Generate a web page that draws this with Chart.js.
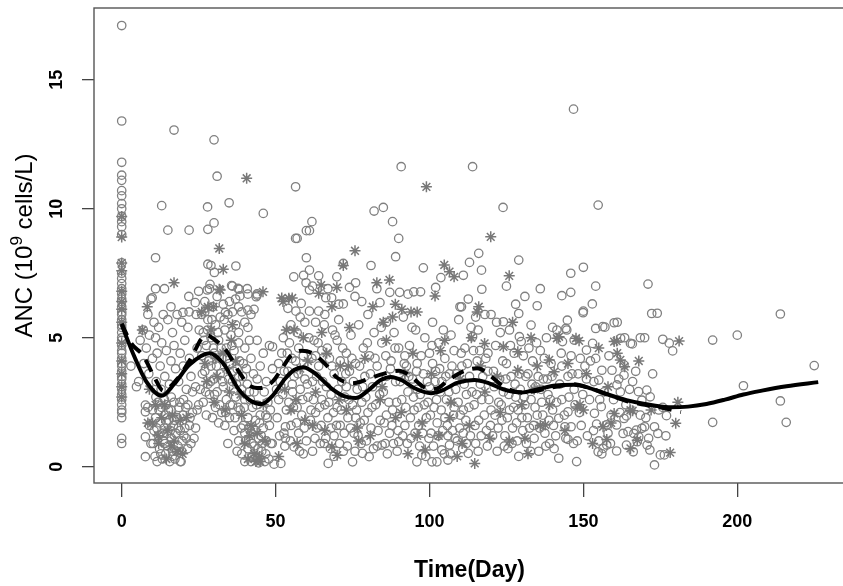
<!DOCTYPE html>
<html>
<head>
<meta charset="utf-8">
<script src="https://cdn.jsdelivr.net/npm/chart.js@4.4.1/dist/chart.umd.min.js"></script>
<style>
html, body { margin: 0; padding: 0; background: #fff; overflow: hidden; }
#wrap { width: 843px; height: 586px; overflow: hidden; }
canvas { display: block; }
</style>
</head>
<body>
<div id="wrap"><canvas id="chart" width="852" height="586"></canvas></div>
<script>
// tick labels
const xTickValues = [0, 50, 100, 150, 200];
const yTickValues = [0, 5, 10, 15];

// observed ANC, circles: [day, value]
const day0Circles = [
  [0,17.1],[0,13.4],[0,11.8],[0,11.3],[0,11.1],[0,10.7],[0,10.5],[0,10.2],[0,10.0],[0,9.7],[0,9.5],[0,9.3],[0,9.0],
  [0,7.9],[0,7.5],[0,7.3],[0,7.1],[0,6.9],[0,6.7],[0,6.5],[0,6.4],[0,6.2],[0,6.0],[0,5.9],[0,5.7],[0,5.5],[0,5.4],
  [0,5.2],[0,5.0],[0,4.9],[0,4.7],[0,4.5],[0,4.4],[0,4.2],[0,4.0],[0,3.9],[0,3.7],[0,3.5],[0,3.4],[0,3.2],[0,3.0],
  [0,2.8],[0,2.6],[0,2.4],[0,2.2],[0,2.1],[0,1.9],[0,1.1],[0,0.9]
];
const earlyCircles = [
  [3,3.9],[4.8,3.1],[5.5,3.3],[6,4.9],[7,5.3],[7.2,4.0],[8,4.6],[8.5,5.9],[8.8,3.6],[9,5.1],[9.5,6.5],[9.9,6.55],
  [10,4.2],[10.5,5.6],[11,5.0],[11,6.9],[11,8.1],[11.2,3.3],[11.5,4.4],[12,5.4],[12.5,3.9],[12.8,3.0],[13,4.8],
  [13,10.12],[13.5,5.9],[13.9,6.9],[14,3.5],[14.5,4.5],[15,5.7],[15,9.17],[15.5,3.2],[16,4.1],[16,6.2],[16.5,5.2],
  [17,4.7],[17,13.05],[17.5,3.8],[18,5.9],[18.5,3.3],[19,4.4],[19.5,5.6],[19.9,5.98],[20,3.9],[20.5,4.9],[21,3.0],
  [21.5,5.4],[21.8,6.6],[21.9,6.0],[21.9,9.17],[22,4.2],[22.5,3.5],[23,2.9],[23.9,6.36],[24,3.1],[24.5,4.6],[24.2,5.9],
  [7.7,2.39],[7.7,2.13],[7.7,1.16],[7.7,0.39],[8.5,2.3],[9,1.6],[9.5,0.9],[10,2.2],[10.5,1.4],[10.8,0.4],[11,1.9],
  [11.5,0.2],[11.8,2.5],[12,1.2],[12.3,0.7],[12.5,1.7],[13,2.3],[13.2,0.3],[13.5,1.0],[13.8,1.5],[14,2.0],[14.3,0.5],
  [14.5,2.4],[14.8,1.3],[15,0.8],[15.3,1.8],[15.6,0.2],[16,2.2],[16.2,1.1],[16.5,0.6],[16.8,1.6],[17,2.5],[17.3,0.3],
  [17.6,1.3],[18,1.9],[18.3,0.8],[18.6,2.3],[19,1.4],[19.3,0.2],[19.6,1.0],[20,2.0],[20.5,1.5],[21,1.1],[21.5,2.4],
  [22,1.6],[22.5,0.9],[23,2.1],[24,1.5],[25,2.4],[19,0.2],
  [10.2,0.9],[11.4,1.5],[12.1,2.2],[12.7,0.5],[13.4,1.3],[14.1,0.9],[14.7,1.7],[15.2,2.2],[15.8,1.4],[16.4,0.4],
  [17.1,1.8],[17.8,0.6],[18.4,1.5],[18.9,2.5],[19.5,0.6],[20.2,1.2],[20.8,2.3],[21.4,0.7],[22.2,1.9],[23.5,1.1],
  [13.9,2.6],[11.1,2.7],[16.1,2.7],[20.1,2.6]
];
const cycle1Circles = [
  [25,6.8],[26,5.9],[26.5,5.2],[27,6.4],[27.5,4.7],[28,5.7],[28.5,6.9],[29,5.0],[29.5,6.2],[30,4.4],[30.5,5.5],
  [31,6.6],[31.5,4.9],[32,5.8],[32.5,4.2],[33,6.3],[33.5,5.3],[34,4.6],[34.5,5.9],[35,4.0],[35.5,5.1],[36,6.0],
  [36.5,4.5],[37,5.5],[37.5,3.8],[38,4.8],[26,4.3],[27,3.7],[28,3.2],[29,3.9],[30,3.4],[31,2.9],[32,3.6],[33,3.1],
  [34,2.6],[26.5,2.5],[27.5,2.0],[28.5,2.8],[29.5,1.9],[30.5,2.3],[31.5,1.7],[32.5,2.1],[33.5,1.6],[25.5,3.0],[24.5,2.2],
  [36,3.3],[37,2.7],[38,3.5],[38.5,2.2],[39,3.0],[39.5,1.6],[40,2.6],[40.5,3.8],[41,1.9],[41.5,2.9],[42,1.3],[42.5,2.3],
  [43,0.8],[43.5,1.8],[44,0.3],[44.5,1.1],[45,2.0],[45.5,0.6],[46,1.5],[46.5,0.2],[47,1.0],[47.5,2.5],[48,1.6],[38,1.0],
  [39,0.5],[40,1.3],[41,0.7],[42,0.2],[43,2.9],[44,3.4],[45,3.9],[46,4.4],[47,3.3],[36.5,1.4],[37.5,0.6],[35,1.9],
  [34.5,0.9],[36,2.4],[48,4.7],[49,3.8],[48.5,0.9],[49.5,0.1],[44,4.9],[42,4.2],[40,4.6],[38,5.2],[39,6.0],[41,5.4],
  [43,6.1],[44,6.7],[38.4,6.62],[41,6.69],[43.7,6.59],[38,6.2],[41,6.07],[33.7,5.98],[27.8,6.85],[28,7.85],[28.7,7.07],
  [29,7.8],[30.1,7.53],[36,7.0],[37.1,7.78],[38.2,6.88],[40.8,6.9],[44,6.65],[35.7,7.02],[37.8,6.91],[27.9,10.07],
  [30,9.45],[30,12.67],[31,11.26],[34.9,10.23],[46,9.82],[27,6.0],[28,9.2],[40,0.2],[42.5,0.4],[44.5,0.15],
  [25.2,5.3],[26.2,3.6],[26.8,4.9],[27.3,2.9],[27.9,5.3],[28.3,4.1],[28.9,3.3],[29.3,5.7],[29.8,4.6],[30.2,2.8],
  [30.8,3.9],[31.3,5.2],[31.8,2.4],[32.3,4.6],[32.8,3.3],[33.3,5.7],[33.8,2.1],[34.3,4.2],[34.8,3.4],[35.3,2.4],
  [35.8,4.7],[36.3,3.7],[36.8,1.9],[37.3,3.2],[37.8,2.3],[38.3,4.1],[38.8,1.5],[39.3,3.5],[39.8,2.3],[40.3,1.0],
  [40.8,3.2],[41.3,1.5],[41.8,2.6],[42.3,0.9],[42.8,3.6],[43.3,1.4],[43.8,2.4],[44.3,0.7],[44.8,1.7],[45.3,1.2],
  [45.8,0.9],[46.3,2.9],[46.8,0.5],[47.3,1.9],[47.8,0.3],[48.3,2.2],[39.5,4.0],[41.5,4.9],[37,6.5],[35,6.4],[42,5.9],[40,5.6]
];
const cycle2Circles = [
  [48.9,0.9],[51.7,0.13],[52.7,1.3],[46.8,2.0],[54.3,2.5],[55.4,3.2],[51,4.0],[49,4.65],[55.9,7.36],[56.5,10.85],
  [56.5,8.85],[59.1,7.42],[50.5,1.9],[51,2.6],[51.5,3.3],[52,4.4],[52.5,5.0],[53,0.8],[53.2,1.1],[53.2,1.55],[53.5,2.2],
  [54,3.7],[54,6.14],[54.5,4.8],[55,1.6],[55,5.5],[55.5,2.9],[56,0.77],[56,3.5],[56.5,4.1],[56.6,6.03],[57,2.3],[57,5.2],
  [57.5,1.3],[57.5,4.6],[58,3.0],[58,5.8],[58.3,6.33],[58.5,2.0],[59,0.5],[59,4.3],[59.5,3.4],[59.5,5.6],[59.9,7.13],
  [60,8.1],[60,9.15],[60,1.0],[60.5,2.7],[61,9.15],[61,6.85],[61,6.03],[61,7.62],[61.8,9.5],[57,8.85],
  [62,3.3],[62.5,4.9],[63,2.1],[63,5.6],[63.5,1.5],[64,3.9],[64,6.03],[64.5,0.9],[65,2.6],[65,4.5],[65.8,0.9],[66,5.9],
  [66.3,6.55],[66.5,3.1],[67,1.9],[67.1,0.13],[67.5,4.2],[68,2.8],[68.2,6.55],[68.5,5.3],[69,1.2],[69,3.6],[69.9,7.36],
  [70,2.3],[70,4.9],[70.5,5.7],[71,1.6],[71.5,3.3],[72,6.31],[72,7.88],[72,0.6],[72.5,2.7],[73,4.4],[73.5,1.9],[74,6.95],
  [74,3.7],[74.5,5.1],[75,0.19],[75,2.4],[75.5,1.3],[76,7.13],[76,4.0],[76.5,3.0],[77,5.5],[77.5,1.7],[78,2.5],[78.2,0.52],
  [78.5,4.6],[79,3.5],[79.5,1.0],[80,5.9],[80,2.1],[80.4,0.39],[62,7.0],[64,7.4],[78,6.4],[75.8,6.6],[70.5,6.3],[67,6.9],
  [63,4.3],[61.5,2.2],[62,0.6],[66,2.4],[68,1.5],[71,4.1],[73,3.1],[76,1.9],[69,0.4],
  [50.3,3.0],[51.3,1.2],[52.3,2.8],[52.8,3.7],[53.8,4.4],[54.8,1.0],[55.3,4.2],[55.8,2.3],[56.8,1.7],[57.3,3.6],
  [57.8,0.6],[58.8,2.6],[59.3,1.5],[60.3,3.2],[60.8,5.0],[61.3,1.8],[61.8,4.2],[62.3,2.6],[62.8,1.1],[63.3,3.5],
  [63.8,4.8],[64.3,2.3],[64.8,1.6],[65.3,3.3],[65.8,5.5],[66.3,1.1],[66.8,4.6],[67.3,2.5],[67.8,0.7],[68.3,3.9],
  [68.8,2.1],[69.3,5.1],[69.8,1.6],[70.3,3.0],[70.8,0.9],[71.3,2.2],[71.8,4.6],[72.3,1.3],[72.8,3.6],[73.3,0.8],
  [73.8,2.6],[74.3,1.5],[74.8,4.2],[75.3,3.3],[75.8,0.6],[76.3,2.2],[76.8,1.2],[77.3,3.9],[77.8,0.9],[78.3,3.1],
  [78.8,1.8],[79.3,2.7],[79.8,4.8]
];
const cycle3Circles = [
  [80.5,4.3],[81,7.8],[81,1.5],[81.5,3.1],[82,9.91],[82,5.2],[82.5,2.4],[83,0.8],[83.9,6.36],[83,3.9],[82.9,6.9],[84,1.8],
  [84.6,0.84],[84.5,4.8],[85,10.05],[85,2.9],[85.6,0.9],[86,5.6],[86,3.5],[87,1.3],[87.1,6.76],[87.5,4.1],[88,9.5],[88,2.2],
  [88.5,5.2],[89,8.14],[89,3.3],[89.5,0.6],[90,8.85],[90,0.97],[90,4.6],[90.3,6.76],[90.8,11.63],[91,2.6],[91.5,5.8],
  [92,1.6],[92.5,3.9],[93,6.69],[93,2.9],[93.5,4.7],[94,1.1],[94.5,3.4],[94.9,6.78],[95,2.2],[95.5,5.3],[95.9,0.19],
  [96,4.0],[96.5,1.6],[97,2.8],[97.1,6.78],[97.5,0.45],[98,7.71],[98,3.6],[98.5,5.0],[99,1.9],[99.5,2.5],[100,4.4],[100,3.1],
  [100.5,1.3],[100.8,0.19],[101,5.6],[101.5,2.3],[102,6.95],[102,3.7],[102.4,0.19],[102.5,1.7],[103,4.8],[103.7,7.33],
  [103.5,2.9],[104,0.65],[104,3.3],[104.5,5.3],[105,1.9],[105,4.2],[105.5,2.6],[106,0.26],[106.5,0.84],[106.5,3.6],[107,5.1],
  [107.5,1.4],[108,2.3],[108,4.5],[108.5,3.0],[109,1.0],[109.5,5.7],[109.9,6.2],[110,2.0],[110.4,6.2],[110.5,3.9],[111,7.42],
  [111,1.3],[111.5,4.6],[112,0.9],[112,2.8],[112.6,6.5],[112.6,0.52],[113,7.92],[113,3.5],[113.5,5.4],[114,11.63],[114,5.04],
  [114.5,2.4],[115,5.8],[115,0.9],[115.5,4.1],[115.8,5.3],[116,8.27],[116,1.8],[116.5,3.2],[116.9,7.62],[117,6.88],[117,2.6],
  [118,5.9],[118.5,1.4],[119,3.7],[119,4.4],[120,5.9],[120,2.2],[86,2.0],[92,4.3],[96,3.0],[101,4.0],[106,1.2],[111,2.2],
  [80.8,3.6],[81.3,2.3],[81.8,0.7],[82.3,4.2],[83.3,1.4],[83.8,2.8],[84.3,5.4],[85.3,1.7],[85.8,4.3],[86.3,0.5],
  [86.8,2.5],[87.3,3.8],[87.8,1.6],[88.3,0.9],[88.8,4.6],[89.3,2.5],[89.8,1.4],[90.5,3.3],[91.3,1.2],[91.8,4.0],
  [92.3,2.3],[92.8,0.9],[93.3,3.5],[93.8,1.9],[94.3,5.4],[94.8,2.7],[95.3,1.3],[95.8,3.7],[96.3,2.3],[96.8,0.8],
  [97.3,4.3],[97.8,1.3],[98.3,2.4],[98.8,0.4],[99.3,3.3],[99.8,1.1],[100.3,2.0],[100.8,4.7],[101.3,0.8],[101.8,3.3],
  [102.3,2.6],[102.8,1.2],[103.3,3.8],[103.8,2.2],[104.3,1.4],[104.8,0.5],[105.3,3.5],[105.8,1.6],[106.3,2.9],[106.8,0.5],
  [107.3,3.9],[107.8,2.0],[108.3,1.1],[108.8,3.6],[109.3,2.5],[109.8,1.5],[110.3,4.4],[110.8,0.7],[111.3,3.2],[111.8,1.8],
  [112.3,4.0],[112.8,2.3],[113.3,1.2],[113.8,2.9],[114.3,4.5],[114.8,1.6],[115.3,2.8],[115.8,0.6],[116.3,4.5],[116.8,1.2],
  [117.3,3.5],[117.8,2.0],[118.3,4.2],[118.8,0.8],[119.3,2.6],[119.8,1.6]
];
const lateCircles = [
  [120.5,1.2],[121,3.1],[121.5,4.7],[122,0.6],[122.5,2.5],[123,5.2],[123.5,1.8],[123.9,10.05],[124,5.62],[124,2.9],[124.5,1.2],
  [125,4.0],[125.5,0.7],[126,5.3],[126,2.2],[126.5,3.5],[127,1.5],[127.5,4.4],[128,2.7],[128.5,1.0],[129,8.01],[129,5.94],
  [129.2,5.04],[129.8,4.85],[129,0.4],[129.5,3.0],[130,1.9],[130.5,4.3],[131,2.4],[131.5,0.9],[132,3.6],[132.5,1.5],[133,5.49],
  [133,2.6],[133.5,4.1],[134,1.1],[134.5,3.1],[135,6.24],[135,2.0],[135.5,0.6],[136,4.5],[136.5,2.5],[137,3.4],[137.5,1.3],
  [138,5.0],[138.5,2.8],[139,0.9],[139.5,4.0],[140,2.2],[140.5,0.7],[140,5.4],[128,6.3],[131,6.6],[136,6.9],[125,7.0],
  [120.8,3.7],[121.3,2.0],[121.8,5.6],[122.3,1.5],[122.8,3.4],[123.3,2.4],[123.8,4.1],[124.3,0.8],[124.8,3.4],[125.3,1.9],
  [125.8,2.8],[126.3,4.7],[126.8,0.9],[127.3,2.3],[127.8,3.2],[128.3,1.7],[128.8,2.2],[129.3,3.6],[130.3,1.4],[130.8,2.7],
  [131.3,3.5],[131.8,1.9],[132.3,4.6],[132.8,0.6],[133.3,3.2],[133.8,1.6],[134.3,2.3],[134.8,4.8],[135.3,3.5],[135.8,1.5],
  [136.3,3.0],[136.8,2.0],[137.3,4.2],[137.8,0.8],[138.3,3.4],[138.8,1.8],[139.3,2.6],[139.8,3.5],[140.3,1.6]
];
const tailCircles = [
  [141.4,5.3],[144.6,5.3],[142,1.88],[142,0.33],[143,6.63],[143.2,4.85],[144,1.55],[144.3,5.36],[144.8,5.68],[145,2.13],
  [145,1.06],[145.9,7.5],[145.9,6.76],[146,1.55],[146.8,13.86],[147,4.91],[147.8,0.2],[148.7,2.1],[149.9,5.97],[150,7.73],
  [150,6.03],[151,4.52],[152.9,6.31],[153,4.78],[153.4,3.3],[153.6,2.07],[154,5.36],[154,4.2],[154,7.0],[154.3,1.65],
  [154.8,10.14],[154.8,0.58],[155,3.36],[155.8,2.33],[156,3.74],[156.3,5.43],[156.4,0.71],[157,5.41],[157.5,1.62],[157.6,0.84],
  [159.3,3.74],[155,1.0],[156,0.5],[158,1.3],[143,3.9],[145,3.5],[147,3.0],[149,4.2],[151,3.4],[152,2.6],[143,2.6],[148,1.0],
  [141,1.2],[159,2.0],[146,4.3],
  [141.3,2.5],[142.3,3.2],[142.8,4.4],[143.8,2.0],[144.3,1.1],[145.3,2.7],[146.3,3.6],[146.8,0.9],[147.3,2.4],[148.3,3.6],
  [149.3,1.6],[149.8,2.8],[150.5,3.9],[151.3,1.2],[152.3,4.1],[153.3,1.4],[155.3,2.6],[156.8,2.9],[158.3,4.3],[158.8,0.9],
  [159.8,2.6],[161.5,3.4],[163.8,2.4],[165,3.0],[167,3.7],[168.5,2.0],[170.3,1.9],[172.5,3.6],[174.5,2.2],[176.8,1.2],
  [160,5.58],[160.9,3.17],[160.8,1.62],[160.8,0.61],[161,5.6],[161.9,2.1],[162.1,4.98],[162.9,1.29],[163.2,3.95],[163.2,3.55],
  [163.2,1.87],[163.4,5.0],[164,1.97],[164,0.84],[164.5,1.36],[165.3,4.78],[165.9,4.76],[166.2,0.58],[166.4,1.29],[167.2,1.42],
  [167.5,0.97],[167.9,2.91],[168,1.16],[168.5,5.0],[169,2.58],[169,1.49],[169.9,5.0],[169.9,1.55],[170.6,2.97],[170.7,0.84],
  [171,7.08],[171.2,1.1],[171.6,0.65],[171.7,2.71],[172.2,5.94],[173.1,1.55],[173.1,0.07],[174,5.95],[174.2,1.29],[175,0.46],
  [175.8,4.94],[175.8,2.3],[176.3,0.46],[177,1.98],[177.9,4.79],[179,4.49],[162,2.9],[166,3.3],
  [192,4.91],[192,1.72],[200,5.1],[202,3.14],[214,5.92],[214,2.55],[215.9,1.72],[225,3.92]
];

// observed ANC, asterisks: [day, value]
const day0Stars = [[0,9.7],[0,8.9],[0,7.9],[0,7.6],[0,6.8],[0,6.4],[0,6.1],[0,5.6],[0,4.8],[0,4.1],[0,3.6],[0,3.1],[0,2.7]];
const starsA = [
  [6.7,5.3],[8.3,6.2],[9,3.0],[8.5,1.7],[10,1.7],[12,0.9],[13,1.9],[14.5,0.3],[15,1.4],[16.5,2.0],[18,0.6],[19,1.8],[11,2.4],
  [17,1.0],[17,7.13],[26,6.0],[28,6.19],[29.8,6.2],[27,4.0],[29,5.3],[31,3.5],[33,4.4],[35,2.9],[37,4.1],[39,2.0],[40,0.9],
  [41,0.3],[42,1.6],[43,0.5],[44,1.3],[45,0.2],[46,2.4],[30,2.5],[32,6.85],[34,3.8],[36,5.5],[45.9,6.78],[31.7,8.46],
  [33,7.65],[31.7,6.88],[40.6,11.18],
  [11.8,1.2],[14,2.4],[16,0.8],[19.8,0.5],[21,1.9],[27.6,3.3],[30.6,4.2],[33.6,2.2],[35.6,4.9],[38.6,2.8],[41.6,1.2],
  [43.6,0.2],[44.8,0.4],[46.6,1.0]
];
const starsB = [
  [51,0.4],[52.4,6.4],[53.5,5.3],[56,5.3],[54.3,6.53],[52,6.54],[55.4,6.54],[55,2.2],[58,3.8],[57,0.9],[59.5,1.8],
  [60.5,4.1],[63,2.9],[64,6.72],[64.8,7.04],[66,1.4],[68.3,6.2],[68.3,0.77],[69.9,6.95],[70,0.45],[71,3.9],[72,7.8],[73,2.2],
  [74,5.4],[75.8,8.37],[77,1.0],[79,4.2],[65,5.2],[81.6,6.2],[82.9,7.13],[84,2.6],[86,4.9],[87,7.24],[88.9,6.3],[89,1.9],
  [91,6.1],[92,3.6],[94,6.0],[96,6.0],[96,1.2],[98.6,0.65],[99,10.85],[85,5.6],[93,0.5],
  [53,3.0],[56.6,2.6],[59,5.0],[62,1.6],[66.6,4.4],[70.6,2.6],[73.6,3.9],[76.6,1.5],[80.8,1.2],[84.6,3.1],[88,5.8],
  [90.8,2.1],[94.6,4.4],[97.6,1.7]
];
const starsC = [
  [101.8,6.62],[103,1.2],[104.8,7.82],[106.5,7.56],[108,7.36],[105,4.9],[107,2.5],[109,0.4],[110,3.4],[113,1.6],[114.7,0.13],
  [117.9,4.78],[119.9,8.91],[116,6.2],[115.5,6.0],[118,2.9],[124,4.65],[125.9,7.4],[128.7,4.46],[128.7,3.74],[126,1.0],
  [130,2.4],[132,0.5],[134,3.0],[136,1.6],[137.6,1.62],[138.9,4.14],[140.5,3.68],[122,3.5],[133,5.0],[141.4,4.98],[142.1,5.04],
  [147.6,4.98],[148.6,4.88],[148.9,2.4],[148,2.32],[156.4,1.55],[157.6,1.06],[151,3.6],[153,0.9],[145,4.0],[158,3.1],
  [160,4.85],[160,2.06],[160.8,4.87],[161,4.4],[162,4.14],[163.4,3.88],[165.3,2.19],[165.3,0.71],[166,2.17],[167.5,1.03],
  [178.2,0.55],[180,1.69],[181.1,4.87],[180.7,2.5],
  [100.6,3.6],[103.6,4.5],[106.6,1.9],[110.6,0.9],[113.6,5.0],[116.6,3.9],[119.6,1.1],[123,2.1],[127,5.6],[131,1.1],
  [135,3.9],[139,2.4],[144,1.4],[150,2.2],[155,4.6],[159,1.7],[168,4.1],[172,2.2]
];

// smoothed curves: [day, value]
const solidCurve = [
  [0,5.5],[4,4.3],[8,3.3],[13,2.75],[17,3.2],[22,3.95],[28.5,4.4],[33,4.0],[38,3.0],[42,2.55],[45.5,2.43],[49,2.75],
  [53,3.4],[56,3.75],[59,3.86],[63,3.6],[68,3.05],[72,2.75],[76,2.66],[80,2.95],[84,3.35],[87.5,3.48],[91,3.35],[95,3.05],
  [100.5,2.85],[104,2.95],[109,3.25],[114.6,3.36],[119,3.25],[124,3.0],[130,2.88],[135,3.0],[141,3.15],[147,3.18],[152,3.05],
  [158,2.8],[164,2.58],[170,2.43],[177.8,2.31],[184,2.33],[190,2.43],[196,2.6],[202,2.8],[208,2.95],[216,3.12],[226.3,3.28]
];
const dashedCurve = [
  [0,5.55],[3,4.8],[7,4.3],[10.5,3.5],[13.5,2.95],[18,3.4],[22,4.1],[27.4,5.1],[31,4.85],[34,4.5],[38,3.7],[41.5,3.15],
  [45,3.05],[49,3.3],[52,3.8],[55,4.3],[58.5,4.5],[62,4.4],[66,4.0],[70,3.45],[75,3.24],[80,3.4],[85,3.6],[90,3.72],[94,3.5],
  [98,3.1],[102,3.02],[106,3.35],[111,3.7],[115.6,3.82],[120,3.5],[124.2,3.1],[130,2.88],[135,2.95],[141,3.1],[147,3.2],
  [152,3.05],[158,2.8],[164,2.55],[170,2.4],[176,2.28],[181.7,2.12]
];

const grey = '#808080';
const pts = a => a.map(p => ({ x: p[0], y: p[1] }));
const circles = [].concat(day0Circles, earlyCircles, cycle1Circles, cycle2Circles, cycle3Circles, lateCircles, tailCircles);
const stars = [].concat(day0Stars, starsA, starsB, starsC);

const frame = {
  id: 'frame',
  afterDraw(chart) {
    const { ctx, chartArea: a, scales } = chart;
    ctx.save();
    ctx.strokeStyle = '#555';
    ctx.lineWidth = 1.4;
    ctx.strokeRect(a.left, a.top, a.right - a.left, a.bottom - a.top);

    // y tick labels, rotated like R
    ctx.fillStyle = '#000';
    ctx.font = 'bold 18px "Liberation Sans", Arial, sans-serif';
    ctx.textAlign = 'center';
    ctx.textBaseline = 'middle';
    yTickValues.forEach(v => {
      ctx.save();
      ctx.translate(57, scales.y.getPixelForValue(v));
      ctx.rotate(-Math.PI / 2);
      ctx.fillText(String(v), 0, 0);
      ctx.restore();
    });

    // x title
    ctx.font = 'bold 23px "Liberation Sans", Arial, sans-serif';
    ctx.textBaseline = 'alphabetic';
    ctx.fillText('Time(Day)', (a.left + a.right) / 2, 577);

    // y title with superscript
    const big = '24px "Liberation Sans", Arial, sans-serif';
    const small = '17px "Liberation Sans", Arial, sans-serif';
    const p1 = 'ANC (10', p2 = '9', p3 = ' cells/L)';
    ctx.font = big; const w1 = ctx.measureText(p1).width, w3 = ctx.measureText(p3).width;
    ctx.font = small; const w2 = ctx.measureText(p2).width;
    const total = w1 + w2 + w3;
    ctx.save();
    ctx.translate(32, (a.top + a.bottom) / 2);
    ctx.rotate(-Math.PI / 2);
    ctx.textAlign = 'left';
    let x0 = -total / 2;
    ctx.font = big; ctx.fillText(p1, x0, 0); x0 += w1;
    ctx.font = small; ctx.fillText(p2, x0, -10); x0 += w2;
    ctx.font = big; ctx.fillText(p3, x0, 0);
    ctx.restore();
    ctx.restore();
  }
};

new Chart(document.getElementById('chart').getContext('2d'), {
  type: 'scatter',
  data: {
    datasets: [
      { label: 'solid', data: pts(solidCurve), showLine: true, pointRadius: 0, borderColor: '#000', borderWidth: 4,
        cubicInterpolationMode: 'monotone', fill: false },
      { label: 'dashed', data: pts(dashedCurve), showLine: true, pointRadius: 0, borderColor: '#000', borderWidth: 4,
        borderDash: [13, 9], cubicInterpolationMode: 'monotone', fill: false },
      { label: 'stars', data: pts(stars), pointStyle: 'star', pointRadius: 5.5, borderColor: '#787878', borderWidth: 1.5,
        backgroundColor: 'rgba(0,0,0,0)' },
      { label: 'circles', data: pts(circles), pointStyle: 'circle', pointRadius: 4.2, borderColor: grey, borderWidth: 1.3,
        backgroundColor: 'rgba(0,0,0,0)' }
    ]
  },
  options: {
    responsive: false,
    animation: false,
    layout: { padding: { top: 8, left: 0, right: 1.6, bottom: 0 } },
    plugins: { legend: { display: false }, tooltip: { enabled: false } },
    scales: {
      x: {
        type: 'linear', min: -9, max: 235,
        afterBuildTicks: s => { s.ticks = xTickValues.map(v => ({ value: v })); },
        afterFit: s => { s.height = 103; },
        grid: { drawOnChartArea: false, tickLength: 14, color: '#444', lineWidth: 1.3 },
        border: { display: false },
        ticks: { color: '#000', padding: 14, maxRotation: 0, font: { family: '"Liberation Sans", Arial, sans-serif', size: 18, weight: 'bold' } }
      },
      y: {
        type: 'linear', min: -0.63, max: 17.78,
        afterBuildTicks: s => { s.ticks = yTickValues.map(v => ({ value: v })); },
        afterFit: s => { s.width = 94; },
        grid: { drawOnChartArea: false, tickLength: 12, color: '#444', lineWidth: 1.3 },
        border: { display: false },
        ticks: { display: false }
      }
    }
  },
  plugins: [frame]
});
</script>
</body>
</html>
